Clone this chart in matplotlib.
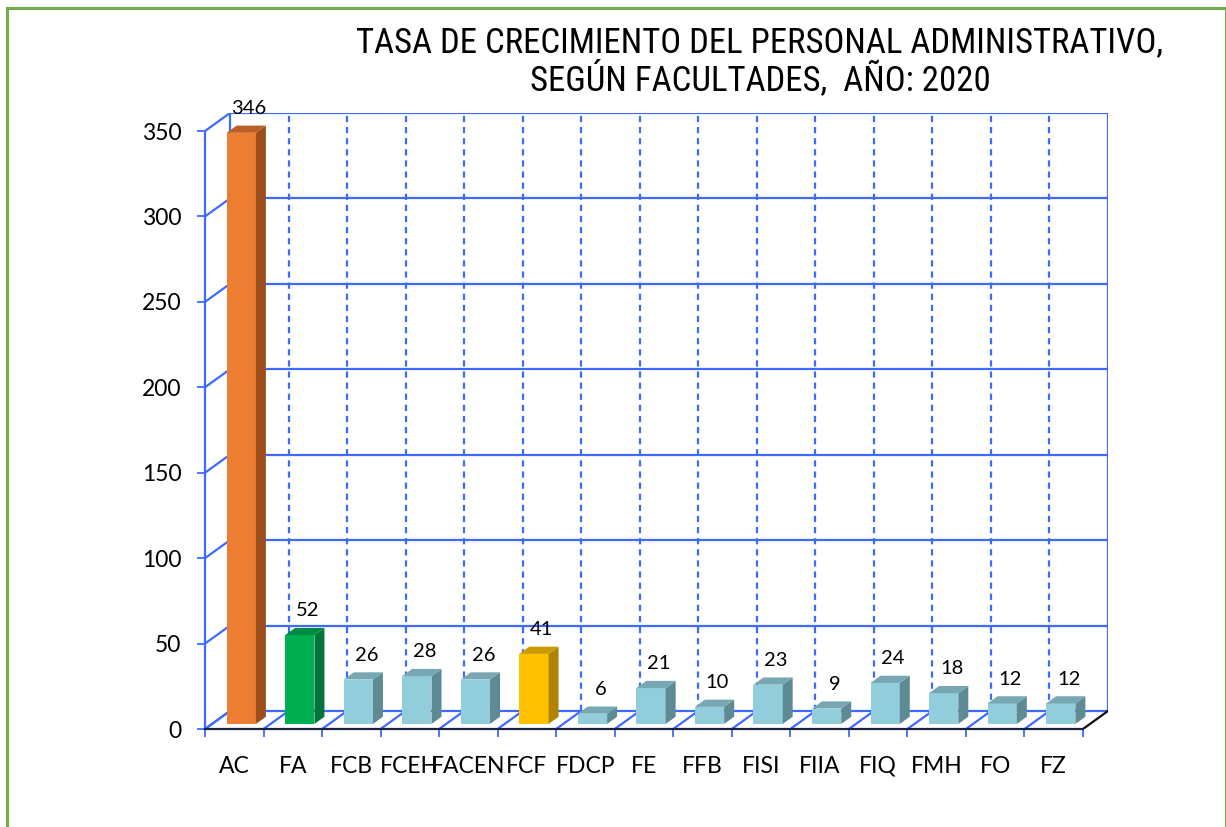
import numpy as np
import matplotlib
matplotlib.use('Agg')
import matplotlib.pyplot as plt
from matplotlib.patches import Polygon, Rectangle
from matplotlib import font_manager

facultades = ['AC', 'FA', 'FCB', 'FCEH', 'FACEN', 'FCF', 'FDCP', 'FE',
              'FFB', 'FISI', 'FIIA', 'FIQ', 'FMH', 'FO', 'FZ']
tasa = [346, 52, 26, 28, 26, 41, 6, 21, 10, 23, 9, 24, 18, 12, 12]
yticks = [0, 50, 100, 150, 200, 250, 300, 350]

titulo = ['TASA DE CRECIMIENTO DEL PERSONAL ADMINISTRATIVO,',
          'SEGÚN FACULTADES,  AÑO: 2020']

# (frente, lado, tapa)
celeste = ('#92CDDC', '#5E8A94', '#76A7B3')
especiales = {
    'AC': ('#ED7D31', '#9C4F1D', '#BA5F26'),
    'FA': ('#00B050', '#00743A', '#008A41'),
    'FCF': ('#FFC000', '#B08400', '#CC9A00'),
}

azul = '#3D6BFF'
fs_tick = 16.5
fuente = ['Lato', 'DejaVu Sans']

# fuente angosta para el titulo, si existe alguna
instaladas = {f.name for f in font_manager.fontManager.ttflist}
angostas = [f for f in ['Liberation Sans Narrow', 'Arial Narrow', 'DejaVu Sans Condensed',
                        'Roboto Condensed', 'Open Sans Condensed'] if f in instaladas]
if angostas:
    fuente_titulo, fs_titulo = angostas + ['DejaVu Sans'], 25
else:
    fuente_titulo, fs_titulo = ['Roboto', 'DejaVu Sans'], 22

# falsa perspectiva: desplazamiento del fondo
ox = 0.427      # en unidades de categoria
oy = 10.55      # en unidades de valor
d0, dd = 0.28, 0.40   # profundidad de las barras
ancho = 0.5

W, H = 1226, 827
fig = plt.figure(figsize=(W / 100, H / 100), dpi=100)
fig.patch.set_facecolor('white')

# marco verde
fig.add_artist(Rectangle((6.5 / W, -0.02), (1225.5 - 6.5) / W, 1.02 - 7.5 / H,
                         transform=fig.transFigure, fill=False,
                         edgecolor='#70AD47', lw=2.2))

ax = fig.add_axes([205 / W, (H - 729) / H, (1108 - 205) / W, (729 - 113) / H])
n = len(facultades)
ymax = yticks[-1]
ax.set_xlim(0, n + ox)
ax.set_ylim(0, ymax + oy)
ax.patch.set_visible(False)

for s in ['top', 'right']:
    ax.spines[s].set_visible(False)
ax.spines['left'].set_bounds(0, ymax)
ax.spines['left'].set_color(azul)
ax.spines['left'].set_linewidth(1.6)
ax.spines['bottom'].set_bounds(0, n)
ax.spines['bottom'].set_color('#1A2340')
ax.spines['bottom'].set_linewidth(1.6)

ax.set_yticks(yticks)
ax.set_yticklabels([str(t) for t in yticks], fontsize=fs_tick, family=fuente)
ax.tick_params(axis='y', length=6, width=1.3, color=azul, pad=11)
ax.set_xticks(np.arange(n + 1))
ax.set_xticklabels([])
ax.tick_params(axis='x', which='major', length=6, width=1.3, color=azul)
ax.set_xticks(np.arange(n) + 0.5, minor=True)
ax.set_xticklabels(facultades, minor=True, fontsize=fs_tick, family=fuente)
ax.tick_params(axis='x', which='minor', length=0, pad=31.5)
for lab in ax.get_xticklabels(minor=True):
    lab.set_va('baseline')

# paredes y piso
for t in yticks:
    ax.plot([0, ox], [t, t + oy], color=azul, lw=1.6, zorder=1)
    ax.plot([ox, n + ox], [t + oy, t + oy], color=azul, lw=1.6, zorder=1)
ax.plot([ox, ox], [oy, ymax + oy], color=azul, lw=1.6, zorder=1)
ax.plot([n + ox, n + ox], [oy, ymax + oy], color=azul, lw=1.6, zorder=1)
for i in range(1, n):
    ax.plot([i + ox, i + ox], [oy, ymax + oy], color=azul, lw=1.6,
            ls=(0, (2.8, 2.2)), zorder=1)
for i in range(n):
    ax.plot([i, i + ox], [0, oy], color=azul, lw=1.6, zorder=1)
ax.plot([n, n + ox], [0, oy], color='#111111', lw=1.6, zorder=1)

# barras
for i, (cat, v) in enumerate(zip(facultades, tasa)):
    frente, lado, tapa = especiales.get(cat, celeste)
    x0 = i + 0.5 - ancho / 2 + d0 * ox
    x1 = x0 + ancho
    y0 = d0 * oy
    dx, dy = dd * ox, dd * oy
    ax.add_patch(Polygon([(x0, y0), (x1, y0), (x1, y0 + v), (x0, y0 + v)],
                         closed=True, facecolor=frente, edgecolor='none', zorder=3))
    ax.add_patch(Polygon([(x1, y0), (x1 + dx, y0 + dy), (x1 + dx, y0 + dy + v), (x1, y0 + v)],
                         closed=True, facecolor=lado, edgecolor='none', zorder=3))
    ax.add_patch(Polygon([(x0, y0 + v), (x1, y0 + v), (x1 + dx, y0 + dy + v), (x0 + dx, y0 + dy + v)],
                         closed=True, facecolor=tapa, edgecolor='none', zorder=3))
    ax.text(i + 0.5 + (d0 + dd / 2) * ox + 0.05, v + (d0 + dd) * oy + 5, str(v),
            ha='center', va='bottom', fontsize=14.5, family=fuente, zorder=4)

fig.text(760 / W, 1 - 43 / H, titulo[0], ha='center', va='center',
         fontsize=fs_titulo, family=fuente_titulo)
fig.text(760 / W, 1 - 79 / H, titulo[1], ha='center', va='center',
         fontsize=fs_titulo, family=fuente_titulo)

fig.savefig('out.png', dpi=100)
